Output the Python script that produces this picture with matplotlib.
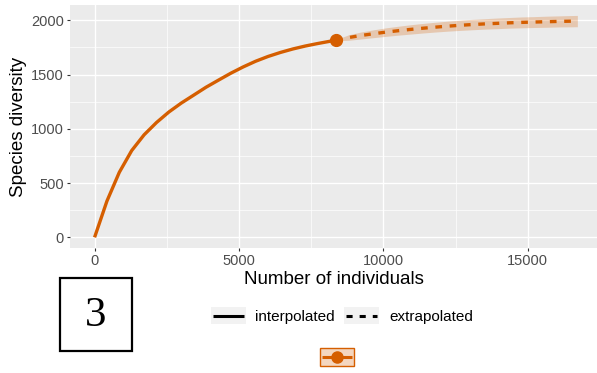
import matplotlib
matplotlib.use("Agg")
import matplotlib.pyplot as plt
from matplotlib.lines import Line2D
from matplotlib.patches import Rectangle

# ---------------- data ----------------
m_interp = [1, 429, 858, 1287, 1716, 2145, 2574, 3003, 3432, 3861, 4290,
            4719, 5148, 5577, 6006, 6435, 6864, 7293, 7722, 8151, 8360]
s_interp = [1, 335, 600, 800, 945, 1058, 1155, 1237, 1310, 1383, 1448,
            1512, 1570, 1622, 1666, 1703, 1735, 1762, 1785, 1806, 1816]

m_extrap = [8360, 8790, 9219, 9648, 10077, 10506, 10935, 11364, 11793, 12222, 12651,
            13080, 13509, 13938, 14367, 14796, 15225, 15654, 16083, 16512, 16720]
s_extrap = [1816, 1840, 1859, 1875, 1890, 1903, 1915, 1926, 1936, 1945, 1953,
            1960, 1966, 1971, 1976, 1980, 1983, 1986, 1989, 1991, 1992]
lo_extrap = [1811, 1815, 1827, 1839, 1851, 1862, 1872, 1882, 1891, 1899, 1906,
             1912, 1918, 1922, 1927, 1930, 1933, 1935, 1938, 1939, 1940]
hi_extrap = [1821, 1865, 1891, 1911, 1929, 1944, 1958, 1970, 1981, 1991, 2000,
             2008, 2014, 2020, 2025, 2030, 2033, 2037, 2040, 2043, 2044]

m_obs = [8360]
s_obs = [1816]

x_ticks = [0, 5000, 10000, 15000]
x_minor = [2500, 7500, 12500]
y_ticks = [0, 500, 1000, 1500, 2000]
y_minor = [250, 750, 1250, 1750]

legend_labels = ["interpolated", "extrapolated"]
panel_label = "3"

# ---------------- style ----------------
ORANGE = "#D55E00"
W, H = 597, 373
plt.rcParams['font.family'] = ['Liberation Sans', 'DejaVu Sans']


def fx(x):
    return x / W


def fy(y):
    return 1 - y / H


fig = plt.figure(figsize=(W / 100, H / 100), dpi=100)
ax = fig.add_axes([fx(70), fy(248), 527 / W, 243 / H])
ax.set_facecolor('#EBEBEB')
for s in ax.spines.values():
    s.set_visible(False)
ax.set_xlim(-850, 17400)
ax.set_ylim(-97, 2140)
ax.set_xticks(x_ticks)
ax.set_xticks(x_minor, minor=True)
ax.set_yticks(y_ticks)
ax.set_yticks(y_minor, minor=True)
ax.grid(which='major', color='white', lw=1.0)
ax.grid(which='minor', color='white', lw=0.5)
ax.set_axisbelow(True)
ax.tick_params(which='minor', length=0)
ax.tick_params(which='major', length=2.5, width=0.8, color='#333333',
               labelcolor='#4D4D4D', labelsize=10.5, pad=2)

ax.fill_between(m_extrap, lo_extrap, hi_extrap, color=ORANGE, alpha=0.25, lw=0, zorder=2)
ax.plot(m_interp, s_interp, color=ORANGE, lw=2.4, zorder=3, solid_capstyle='butt')
ax.plot(m_extrap, s_extrap, color=ORANGE, lw=2.4, ls=(0, (2, 2.3)), zorder=3)
ax.plot(m_obs, s_obs, 'o', color=ORANGE, ms=8.5, zorder=4)

fig.text(fx(333.5), fy(279), "Number of individuals", fontsize=13.5,
         ha='center', va='center', color='black')
fig.text(fx(18.5), fy(126.5), "Species diversity", fontsize=13.5, rotation=90,
         ha='center', va='center', color='black')

# ---------------- legend row 1 ----------------
for (kx, tx, label, ls) in [(211, 255, legend_labels[0], '-'),
                            (344, 389, legend_labels[1], (0, (2, 2.3)))]:
    fig.add_artist(Rectangle((fx(kx), fy(324)), 35 / W, 17 / H,
                             transform=fig.transFigure, facecolor='#F2F2F2',
                             edgecolor='none'))
    fig.add_artist(Line2D([fx(kx + 2), fx(kx + 33)], [fy(315.5), fy(315.5)],
                          transform=fig.transFigure, color='black', lw=2.2, ls=ls,
                          solid_capstyle='butt', dash_capstyle='butt'))
    fig.text(fx(tx), fy(316.5), label, fontsize=11, ha='left', va='center', color='black')

# ---------------- legend row 2 ----------------
fig.add_artist(Rectangle((fx(319.5), fy(366)), 34.5 / W, 18.5 / H,
                         transform=fig.transFigure, facecolor=ORANGE, alpha=0.25,
                         edgecolor='none'))
fig.add_artist(Rectangle((fx(319.5), fy(366)), 34.5 / W, 18.5 / H,
                         transform=fig.transFigure, facecolor='none',
                         edgecolor=ORANGE, lw=1.0))
fig.add_artist(Line2D([fx(322), fx(351.5)], [fy(356.5), fy(356.5)],
                      transform=fig.transFigure, color=ORANGE, lw=2.2,
                      solid_capstyle='butt'))
fig.add_artist(Line2D([fx(336.7)], [fy(356.5)], transform=fig.transFigure,
                      color=ORANGE, marker='o', ms=8, lw=0))

# ---------------- panel label box ----------------
fig.add_artist(Rectangle((fx(59.5), fy(350.5)), 72.5 / W, 73 / H,
                         transform=fig.transFigure, facecolor='white',
                         edgecolor='black', lw=1.6))
fig.text(fx(95.7), fy(316), panel_label, fontsize=31, family='Liberation Serif',
         ha='center', va='center', color='black')

fig.savefig("out.png", dpi=100)
